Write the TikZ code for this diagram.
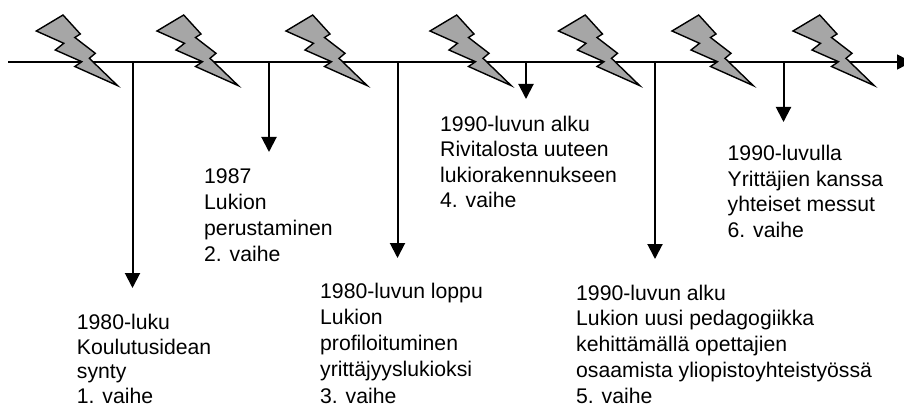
\documentclass[tikz,border=0pt]{standalone}
\usepackage{fontspec}
\setmainfont{Liberation Sans}
\usetikzlibrary{arrows.meta}
\tikzset{
  axisline/.style={draw=black,line width=1.4pt,-{Triangle[length=15pt,width=15pt]}},
  drop/.style={draw=black,line width=2pt,-{Triangle[length=15pt,width=15pt]}},
  bolt/.style={draw=black,fill=boltgray,line width=1.4pt,line join=miter,miter limit=10},
  phase/.style={anchor=base west,align=left,inner sep=0pt,font=\fontsize{21.2pt}{#1}\selectfont},
  phase/.default=25.7pt
}
\definecolor{boltgray}{HTML}{A6A6A6}
\begin{document}
\begin{tikzpicture}[x=1pt,y=-1pt]
\useasboundingbox (0,0) rectangle (904,406);
\clip (0,0) rectangle (904,406);
\coordinate (start) at (8,62);
\coordinate (end) at (912,62);
\draw[axisline] (start) -- (end);
\foreach \n/\x/\t in {one/132.5/288,two/269/152,three/397.5/258,four/526/99,five/655/259,six/783.5/122}{
  \coordinate (top\n) at (\x,62);
  \coordinate (tip\n) at (\x,\t);
  \draw[drop] (top\n) -- (tip\n);
}
\foreach \x in {35.3,156,285,429,557.5,671,792}{
  \begin{scope}[shift={(\x,31)}]
    \draw[bolt] (1,0) -- (27.7,-16) -- (45,3) -- (39.5,6.5) -- (60,22.3) -- (54,27.3) -- (82.2,54.6) -- (39.5,35.5) -- (46.5,30.7) -- (20,19) -- (28.5,12.3) -- cycle;
  \end{scope}
}
\node[phase=24.5pt] (p1) at (76.7,403) {1980-luku\\Koulutusidean\\synty\\1. vaihe};
\node[phase=25.9pt] (p2) at (204,261) {1987\\Lukion\\perustaminen\\2. vaihe};
\node[phase=26.2pt] (p3) at (320,403) {1980-luvun loppu\\Lukion\\profiloituminen\\yrittäjyyslukioksi\\3. vaihe};
\node[phase=25.2pt] (p4) at (440,207.3) {1990-luvun alku\\Rivitalosta uuteen\\lukiorakennukseen\\4. vaihe};
\node[phase=25.7pt] (p5) at (576,403) {1990-luvun alku\\Lukion uusi pedagogiikka\\kehittämällä opettajien\\osaamista yliopistoyhteistyössä\\5. vaihe};
\node[phase=25.6pt] (p6) at (727.5,237.5) {1990-luvulla\\Yrittäjien kanssa\\yhteiset messut\\6. vaihe};
\end{tikzpicture}
\end{document}
